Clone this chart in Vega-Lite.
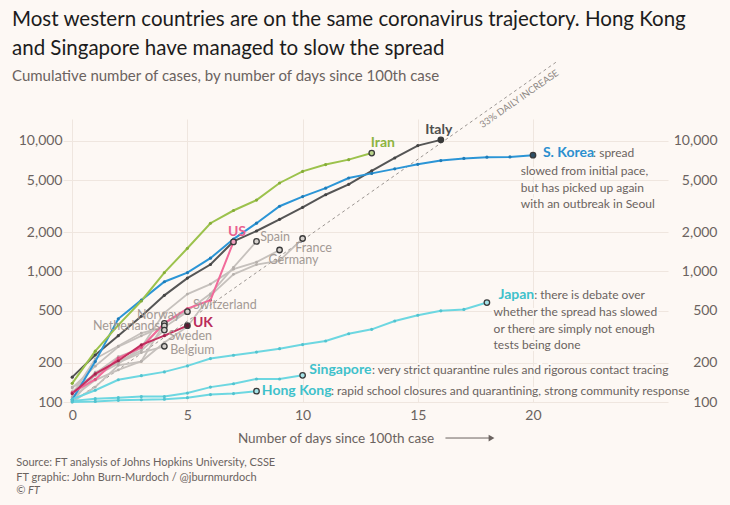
{
  "$schema": "https://vega.github.io/schema/vega-lite/v6.json",
  "width": 605,
  "height": 283,
  "autosize": "none",
  "padding": {"left": 63, "top": 119, "right": 62, "bottom": 103},
  "background": "#fdf8f4",
  "title": {
    "text": ["Most western countries are on the same coronavirus trajectory. Hong Kong", "and Singapore have managed to slow the spread"],
    "subtitle": "Cumulative number of cases, by number of days since 100th case",
    "anchor": "start",
    "frame": "group",
    "dx": -51,
    "dy": 52,
    "font": "Lato",
    "fontSize": 20.5,
    "fontWeight": "normal",
    "color": "#1c1c1c",
    "lineHeight": 29,
    "subtitleFont": "Lato",
    "subtitleFontSize": 15,
    "subtitleColor": "#6b6360",
    "subtitlePadding": 10,
    "offset": 28
  },
  "config": {
    "view": {"stroke": null},
    "axis": {
      "labelFont": "Lato",
      "labelFontSize": 14,
      "labelColor": "#6b6360",
      "gridColor": "#efe6df",
      "gridWidth": 1,
      "domain": false,
      "ticks": false
    }
  },
  "datasets": {
    "series": [
      {"country": "Italy", "day": 0, "cases": 155}, {"country": "Italy", "day": 1, "cases": 229}, {"country": "Italy", "day": 2, "cases": 322}, {"country": "Italy", "day": 3, "cases": 453}, {"country": "Italy", "day": 4, "cases": 655}, {"country": "Italy", "day": 5, "cases": 888}, {"country": "Italy", "day": 6, "cases": 1128}, {"country": "Italy", "day": 7, "cases": 1694}, {"country": "Italy", "day": 8, "cases": 2036}, {"country": "Italy", "day": 9, "cases": 2502}, {"country": "Italy", "day": 10, "cases": 3089}, {"country": "Italy", "day": 11, "cases": 3858}, {"country": "Italy", "day": 12, "cases": 4636}, {"country": "Italy", "day": 13, "cases": 5883}, {"country": "Italy", "day": 14, "cases": 7375}, {"country": "Italy", "day": 15, "cases": 9172}, {"country": "Italy", "day": 16, "cases": 10149},
      {"country": "S. Korea", "day": 0, "cases": 104}, {"country": "S. Korea", "day": 1, "cases": 204}, {"country": "S. Korea", "day": 2, "cases": 433}, {"country": "S. Korea", "day": 3, "cases": 602}, {"country": "S. Korea", "day": 4, "cases": 833}, {"country": "S. Korea", "day": 5, "cases": 977}, {"country": "S. Korea", "day": 6, "cases": 1261}, {"country": "S. Korea", "day": 7, "cases": 1766}, {"country": "S. Korea", "day": 8, "cases": 2337}, {"country": "S. Korea", "day": 9, "cases": 3150}, {"country": "S. Korea", "day": 10, "cases": 3736}, {"country": "S. Korea", "day": 11, "cases": 4335}, {"country": "S. Korea", "day": 12, "cases": 5186}, {"country": "S. Korea", "day": 13, "cases": 5621}, {"country": "S. Korea", "day": 14, "cases": 6088}, {"country": "S. Korea", "day": 15, "cases": 6593}, {"country": "S. Korea", "day": 16, "cases": 7041}, {"country": "S. Korea", "day": 17, "cases": 7314}, {"country": "S. Korea", "day": 18, "cases": 7478}, {"country": "S. Korea", "day": 19, "cases": 7513}, {"country": "S. Korea", "day": 20, "cases": 7755},
      {"country": "Iran", "day": 0, "cases": 139}, {"country": "Iran", "day": 1, "cases": 245}, {"country": "Iran", "day": 2, "cases": 388}, {"country": "Iran", "day": 3, "cases": 593}, {"country": "Iran", "day": 4, "cases": 978}, {"country": "Iran", "day": 5, "cases": 1501}, {"country": "Iran", "day": 6, "cases": 2336}, {"country": "Iran", "day": 7, "cases": 2922}, {"country": "Iran", "day": 8, "cases": 3513}, {"country": "Iran", "day": 9, "cases": 4747}, {"country": "Iran", "day": 10, "cases": 5823}, {"country": "Iran", "day": 11, "cases": 6566}, {"country": "Iran", "day": 12, "cases": 7161}, {"country": "Iran", "day": 13, "cases": 8042},
      {"country": "US", "day": 0, "cases": 118}, {"country": "US", "day": 1, "cases": 149}, {"country": "US", "day": 2, "cases": 217}, {"country": "US", "day": 3, "cases": 262}, {"country": "US", "day": 4, "cases": 402}, {"country": "US", "day": 5, "cases": 518}, {"country": "US", "day": 6, "cases": 601}, {"country": "US", "day": 7, "cases": 1680},
      {"country": "UK", "day": 0, "cases": 116}, {"country": "UK", "day": 1, "cases": 164}, {"country": "UK", "day": 2, "cases": 207}, {"country": "UK", "day": 3, "cases": 274}, {"country": "UK", "day": 4, "cases": 322}, {"country": "UK", "day": 5, "cases": 384},
      {"country": "Spain", "day": 0, "cases": 120}, {"country": "Spain", "day": 1, "cases": 165}, {"country": "Spain", "day": 2, "cases": 222}, {"country": "Spain", "day": 3, "cases": 259}, {"country": "Spain", "day": 4, "cases": 400}, {"country": "Spain", "day": 5, "cases": 500}, {"country": "Spain", "day": 6, "cases": 673}, {"country": "Spain", "day": 7, "cases": 1073}, {"country": "Spain", "day": 8, "cases": 1695},
      {"country": "France", "day": 0, "cases": 100}, {"country": "France", "day": 1, "cases": 130}, {"country": "France", "day": 2, "cases": 191}, {"country": "France", "day": 3, "cases": 204}, {"country": "France", "day": 4, "cases": 285}, {"country": "France", "day": 5, "cases": 377}, {"country": "France", "day": 6, "cases": 653}, {"country": "France", "day": 7, "cases": 949}, {"country": "France", "day": 8, "cases": 1126}, {"country": "France", "day": 9, "cases": 1209}, {"country": "France", "day": 10, "cases": 1784},
      {"country": "Germany", "day": 0, "cases": 130}, {"country": "Germany", "day": 1, "cases": 159}, {"country": "Germany", "day": 2, "cases": 196}, {"country": "Germany", "day": 3, "cases": 262}, {"country": "Germany", "day": 4, "cases": 482}, {"country": "Germany", "day": 5, "cases": 670}, {"country": "Germany", "day": 6, "cases": 799}, {"country": "Germany", "day": 7, "cases": 1040}, {"country": "Germany", "day": 8, "cases": 1176}, {"country": "Germany", "day": 9, "cases": 1457},
      {"country": "Switzerland", "day": 0, "cases": 114}, {"country": "Switzerland", "day": 1, "cases": 214}, {"country": "Switzerland", "day": 2, "cases": 268}, {"country": "Switzerland", "day": 3, "cases": 337}, {"country": "Switzerland", "day": 4, "cases": 374}, {"country": "Switzerland", "day": 5, "cases": 491},
      {"country": "Norway", "day": 0, "cases": 108}, {"country": "Norway", "day": 1, "cases": 147}, {"country": "Norway", "day": 2, "cases": 176}, {"country": "Norway", "day": 3, "cases": 205}, {"country": "Norway", "day": 4, "cases": 400},
      {"country": "Netherlands", "day": 0, "cases": 128}, {"country": "Netherlands", "day": 1, "cases": 188}, {"country": "Netherlands", "day": 2, "cases": 265}, {"country": "Netherlands", "day": 3, "cases": 321}, {"country": "Netherlands", "day": 4, "cases": 382},
      {"country": "Sweden", "day": 0, "cases": 101}, {"country": "Sweden", "day": 1, "cases": 161}, {"country": "Sweden", "day": 2, "cases": 203}, {"country": "Sweden", "day": 3, "cases": 248}, {"country": "Sweden", "day": 4, "cases": 355},
      {"country": "Belgium", "day": 0, "cases": 109}, {"country": "Belgium", "day": 1, "cases": 169}, {"country": "Belgium", "day": 2, "cases": 200}, {"country": "Belgium", "day": 3, "cases": 239}, {"country": "Belgium", "day": 4, "cases": 267},
      {"country": "Japan", "day": 0, "cases": 105}, {"country": "Japan", "day": 1, "cases": 123}, {"country": "Japan", "day": 2, "cases": 148}, {"country": "Japan", "day": 3, "cases": 159}, {"country": "Japan", "day": 4, "cases": 170}, {"country": "Japan", "day": 5, "cases": 189}, {"country": "Japan", "day": 6, "cases": 215}, {"country": "Japan", "day": 7, "cases": 228}, {"country": "Japan", "day": 8, "cases": 241}, {"country": "Japan", "day": 9, "cases": 256}, {"country": "Japan", "day": 10, "cases": 275}, {"country": "Japan", "day": 11, "cases": 293}, {"country": "Japan", "day": 12, "cases": 333}, {"country": "Japan", "day": 13, "cases": 360}, {"country": "Japan", "day": 14, "cases": 417}, {"country": "Japan", "day": 15, "cases": 461}, {"country": "Japan", "day": 16, "cases": 499}, {"country": "Japan", "day": 17, "cases": 511}, {"country": "Japan", "day": 18, "cases": 577},
      {"country": "Singapore", "day": 0, "cases": 102}, {"country": "Singapore", "day": 1, "cases": 106}, {"country": "Singapore", "day": 2, "cases": 108}, {"country": "Singapore", "day": 3, "cases": 110}, {"country": "Singapore", "day": 4, "cases": 110}, {"country": "Singapore", "day": 5, "cases": 117}, {"country": "Singapore", "day": 6, "cases": 130}, {"country": "Singapore", "day": 7, "cases": 138}, {"country": "Singapore", "day": 8, "cases": 150}, {"country": "Singapore", "day": 9, "cases": 150}, {"country": "Singapore", "day": 10, "cases": 160},
      {"country": "Hong Kong", "day": 0, "cases": 100}, {"country": "Hong Kong", "day": 1, "cases": 101}, {"country": "Hong Kong", "day": 2, "cases": 103}, {"country": "Hong Kong", "day": 3, "cases": 104}, {"country": "Hong Kong", "day": 4, "cases": 105}, {"country": "Hong Kong", "day": 5, "cases": 108}, {"country": "Hong Kong", "day": 6, "cases": 114}, {"country": "Hong Kong", "day": 7, "cases": 116}, {"country": "Hong Kong", "day": 8, "cases": 121}
    ],
    "guide": [{"day": 0, "cases": 100}, {"day": 21, "cases": 39900}],
    "guideLabel": [{"day": 19.4, "cases": 20870, "text": "33% DAILY INCREASE"}],
    "names": [
      {"country": "Iran", "day": 12.96, "cases": 9654, "text": "Iran"},
      {"country": "Italy", "day": 15.32, "cases": 12078, "text": "Italy"},
      {"country": "S. Korea", "day": 20.43, "cases": 8006, "text": "S. Korea"},
      {"country": "US", "day": 6.76, "cases": 1987, "text": "US"},
      {"country": "UK", "day": 5.24, "cases": 403, "text": "UK"},
      {"country": "Japan", "day": 18.5, "cases": 665, "text": "Japan"},
      {"country": "Singapore", "day": 10.29, "cases": 175, "text": "Singapore"},
      {"country": "Hong Kong", "day": 8.23, "cases": 121.4, "text": "Hong Kong"}
    ],
    "minor": [
      {"day": 8.16, "cases": 1819, "text": "Spain"},
      {"day": 9.68, "cases": 1497, "text": "France"},
      {"day": 8.52, "cases": 1219, "text": "Germany"},
      {"day": 5.24, "cases": 551, "text": "Switzerland"},
      {"day": 2.81, "cases": 467, "text": "Norway"},
      {"day": 0.9, "cases": 380, "text": "Netherlands"},
      {"day": 4.18, "cases": 319, "text": "Sweden"},
      {"day": 4.25, "cases": 252, "text": "Belgium"}
    ],
    "desc": [
      {"day": 22.61, "cases": 8006, "text": ": spread"},
      {"day": 19.47, "cases": 5861, "text": "slowed from initial pace,"},
      {"day": 19.47, "cases": 4341, "text": "but has picked up again"},
      {"day": 19.47, "cases": 3255, "text": "with an outbreak in Seoul"},
      {"day": 20.05, "cases": 665, "text": ": there is debate over"},
      {"day": 18.29, "cases": 489, "text": "whether the spread has slowed"},
      {"day": 18.29, "cases": 365, "text": "or there are simply not enough"},
      {"day": 18.29, "cases": 275, "text": "tests being done"},
      {"day": 13.01, "cases": 175, "text": ": very strict quarantine rules and rigorous contact tracing"},
      {"day": 11.23, "cases": 121.4, "text": ": rapid school closures and quarantining, strong community response"}
    ],
    "credits": [
      {"kind": "plain", "day": -2.43, "cases": 33.9, "text": "Source: FT analysis of Johns Hopkins University, CSSE"},
      {"kind": "plain", "day": -2.43, "cases": 26.2, "text": "FT graphic: John Burn-Murdoch / @jburnmurdoch"},
      {"kind": "italic", "day": -2.43, "cases": 20.8, "text": "© FT"}
    ],
    "arrow": [{"day": 16.2, "day2": 18.2, "cases": 53}]
  },
  "layer": [
    {
      "data": {"name": "guide"},
      "mark": {"type": "line", "color": "#9c9692", "strokeWidth": 1, "strokeDash": [3, 3]},
      "encoding": {
        "x": {"field": "day", "type": "quantitative", "scale": {"domain": [-0.4, 25.86], "nice": false, "zero": false},
          "axis": {"values": [0, 5, 10, 15, 20], "grid": true, "labelPadding": 6, "title": "Number of days since 100th case", "titleFont": "Lato", "titleFontSize": 13.5, "titleFontWeight": "normal", "titleColor": "#6b6360", "titleX": 272.5, "titleY": 36, "titleAlign": "center", "titleBaseline": "middle", "titleAnchor": null}},
        "y": {"field": "cases", "type": "quantitative", "scale": {"type": "log", "domain": [100, 14660], "nice": false},
          "axis": {"orient": "left", "values": [100, 200, 500, 1000, 2000, 5000, 10000], "format": ",", "grid": true, "labelPadding": 1, "title": null}}
      }
    },
    {
      "data": {"name": "guideLabel"},
      "mark": {"type": "text", "font": "Lato", "fontSize": 9.5, "color": "#8f8985", "angle": -35, "align": "center", "baseline": "middle"},
      "encoding": {
        "x": {"field": "day", "type": "quantitative"},
        "y": {"field": "cases", "type": "quantitative", "axis": null},
        "text": {"field": "text"}
      }
    },
    {
      "data": {"name": "series"},
      "transform": [{"filter": {"field": "country", "oneOf": ["Spain", "France", "Germany", "Switzerland", "Norway", "Netherlands", "Sweden", "Belgium"]}}],
      "mark": {"type": "line", "color": "#c6c1bd", "strokeWidth": 1.8},
      "encoding": {
        "x": {"field": "day", "type": "quantitative"},
        "y": {"field": "cases", "type": "quantitative", "axis": null},
        "detail": {"field": "country"}
      }
    },
    {
      "data": {"name": "series"},
      "transform": [{"filter": {"field": "country", "oneOf": ["Spain", "France", "Germany", "Switzerland", "Norway", "Netherlands", "Sweden", "Belgium"]}}],
      "mark": {"type": "point", "filled": true, "shape": "circle", "size": 8, "color": "#b5afab", "opacity": 1},
      "encoding": {
        "x": {"field": "day", "type": "quantitative"},
        "y": {"field": "cases", "type": "quantitative", "axis": null}
      }
    },
    {
      "data": {"name": "series"},
      "transform": [{"filter": {"field": "country", "oneOf": ["Japan", "Singapore", "Hong Kong", "UK", "US", "Iran", "Italy", "S. Korea"]}}],
      "mark": {"type": "line", "strokeWidth": 2},
      "encoding": {
        "x": {"field": "day", "type": "quantitative"},
        "y": {"field": "cases", "type": "quantitative",
          "axis": {"orient": "right", "values": [100, 200, 500, 1000, 2000, 5000, 10000], "format": ",", "grid": false, "labelAlign": "right", "labelPadding": 49, "title": null}},
        "color": {"field": "country", "type": "nominal", "legend": null,
          "scale": {"domain": ["Japan", "Singapore", "Hong Kong", "UK", "US", "Iran", "Italy", "S. Korea"], "range": ["#6dd7e1", "#6dd7e1", "#6dd7e1", "#c42f5f", "#f26a9a", "#9cc24c", "#555555", "#2b95d6"]}},
        "order": {"field": "day", "type": "quantitative"}
      }
    },
    {
      "data": {"name": "series"},
      "transform": [{"filter": {"field": "country", "oneOf": ["Japan", "Singapore", "Hong Kong", "UK", "US", "Iran", "Italy", "S. Korea"]}}],
      "mark": {"type": "point", "filled": true, "shape": "circle", "size": 10, "opacity": 1},
      "encoding": {
        "x": {"field": "day", "type": "quantitative"},
        "y": {"field": "cases", "type": "quantitative", "axis": null},
        "color": {"field": "country", "type": "nominal", "legend": null,
          "scale": {"domain": ["Japan", "Singapore", "Hong Kong", "UK", "US", "Iran", "Italy", "S. Korea"], "range": ["#52c3cf", "#52c3cf", "#52c3cf", "#a3214c", "#e0507f", "#86ad38", "#444444", "#1f7cb8"]}}
      }
    },
    {
      "data": {"name": "series"},
      "transform": [
        {"joinaggregate": [{"op": "max", "field": "day", "as": "lastDay"}], "groupby": ["country"]},
        {"filter": "datum.day === datum.lastDay"}
      ],
      "mark": {"type": "point", "filled": true, "shape": "circle", "size": 30, "stroke": "#3a3a3a", "strokeWidth": 1.3, "opacity": 1},
      "encoding": {
        "x": {"field": "day", "type": "quantitative"},
        "y": {"field": "cases", "type": "quantitative", "axis": null},
        "color": {"field": "country", "type": "nominal", "legend": null,
          "scale": {"domain": ["Japan", "Singapore", "Hong Kong", "UK", "US", "Iran", "Italy", "S. Korea", "Spain", "France", "Germany", "Switzerland", "Norway", "Netherlands", "Sweden", "Belgium"],
            "range": ["#a6e3e8", "#a6e3e8", "#a6e3e8", "#5a1a30", "#f0a0bd", "#b9d38a", "#3a3a3a", "#2d4f66", "#d6d1cd", "#d6d1cd", "#d6d1cd", "#d6d1cd", "#d6d1cd", "#d6d1cd", "#d6d1cd", "#d6d1cd"]}}
      }
    },
    {
      "data": {"name": "minor"},
      "mark": {"type": "text", "font": "Lato", "fontSize": 12.5, "color": "#a39a95", "align": "left", "baseline": "middle"},
      "encoding": {
        "x": {"field": "day", "type": "quantitative"},
        "y": {"field": "cases", "type": "quantitative", "axis": null},
        "text": {"field": "text"}
      }
    },
    {
      "data": {"name": "desc"},
      "mark": {"type": "text", "font": "Lato", "fontSize": 12, "color": "#fdf8f4", "stroke": "#fdf8f4", "strokeWidth": 4, "align": "left", "baseline": "middle"},
      "encoding": {
        "x": {"field": "day", "type": "quantitative"},
        "y": {"field": "cases", "type": "quantitative", "axis": null},
        "text": {"field": "text"}
      }
    },
    {
      "data": {"name": "desc"},
      "mark": {"type": "text", "font": "Lato", "fontSize": 12, "color": "#6b6360", "align": "left", "baseline": "middle"},
      "encoding": {
        "x": {"field": "day", "type": "quantitative"},
        "y": {"field": "cases", "type": "quantitative", "axis": null},
        "text": {"field": "text"}
      }
    },
    {
      "data": {"name": "names"},
      "mark": {"type": "text", "font": "Lato", "fontSize": 14, "fontWeight": "bold", "align": "left", "baseline": "middle"},
      "encoding": {
        "x": {"field": "day", "type": "quantitative"},
        "y": {"field": "cases", "type": "quantitative", "axis": null},
        "text": {"field": "text"},
        "color": {"field": "country", "type": "nominal", "legend": null,
          "scale": {"domain": ["Japan", "Singapore", "Hong Kong", "UK", "US", "Iran", "Italy", "S. Korea"], "range": ["#3fc1cb", "#3fc1cb", "#3fc1cb", "#b92a5a", "#e9608f", "#8db43f", "#4f4f4f", "#2b8fcf"]}}
      }
    },
    {
      "data": {"name": "credits"},
      "transform": [{"filter": {"field": "kind", "equal": "plain"}}],
      "mark": {"type": "text", "font": "Lato", "fontSize": 11, "color": "#6b6360", "align": "left", "baseline": "middle"},
      "encoding": {
        "x": {"field": "day", "type": "quantitative"},
        "y": {"field": "cases", "type": "quantitative", "axis": null},
        "text": {"field": "text"}
      }
    },
    {
      "data": {"name": "credits"},
      "transform": [{"filter": {"field": "kind", "equal": "italic"}}],
      "mark": {"type": "text", "font": "Lato", "fontSize": 11, "fontStyle": "italic", "color": "#6b6360", "align": "left", "baseline": "middle"},
      "encoding": {
        "x": {"field": "day", "type": "quantitative"},
        "y": {"field": "cases", "type": "quantitative", "axis": null},
        "text": {"field": "text"}
      }
    },
    {
      "data": {"name": "arrow"},
      "mark": {"type": "rule", "color": "#6b6360", "strokeWidth": 1},
      "encoding": {
        "x": {"field": "day", "type": "quantitative"},
        "x2": {"field": "day2"},
        "y": {"field": "cases", "type": "quantitative", "axis": null}
      }
    },
    {
      "data": {"name": "arrow"},
      "mark": {"type": "point", "shape": "triangle-right", "filled": true, "size": 45, "color": "#6b6360", "opacity": 1},
      "encoding": {
        "x": {"field": "day2", "type": "quantitative"},
        "y": {"field": "cases", "type": "quantitative", "axis": null}
      }
    }
  ],
  "resolve": {"scale": {"color": "independent"}, "axis": {"y": "independent"}}
}
